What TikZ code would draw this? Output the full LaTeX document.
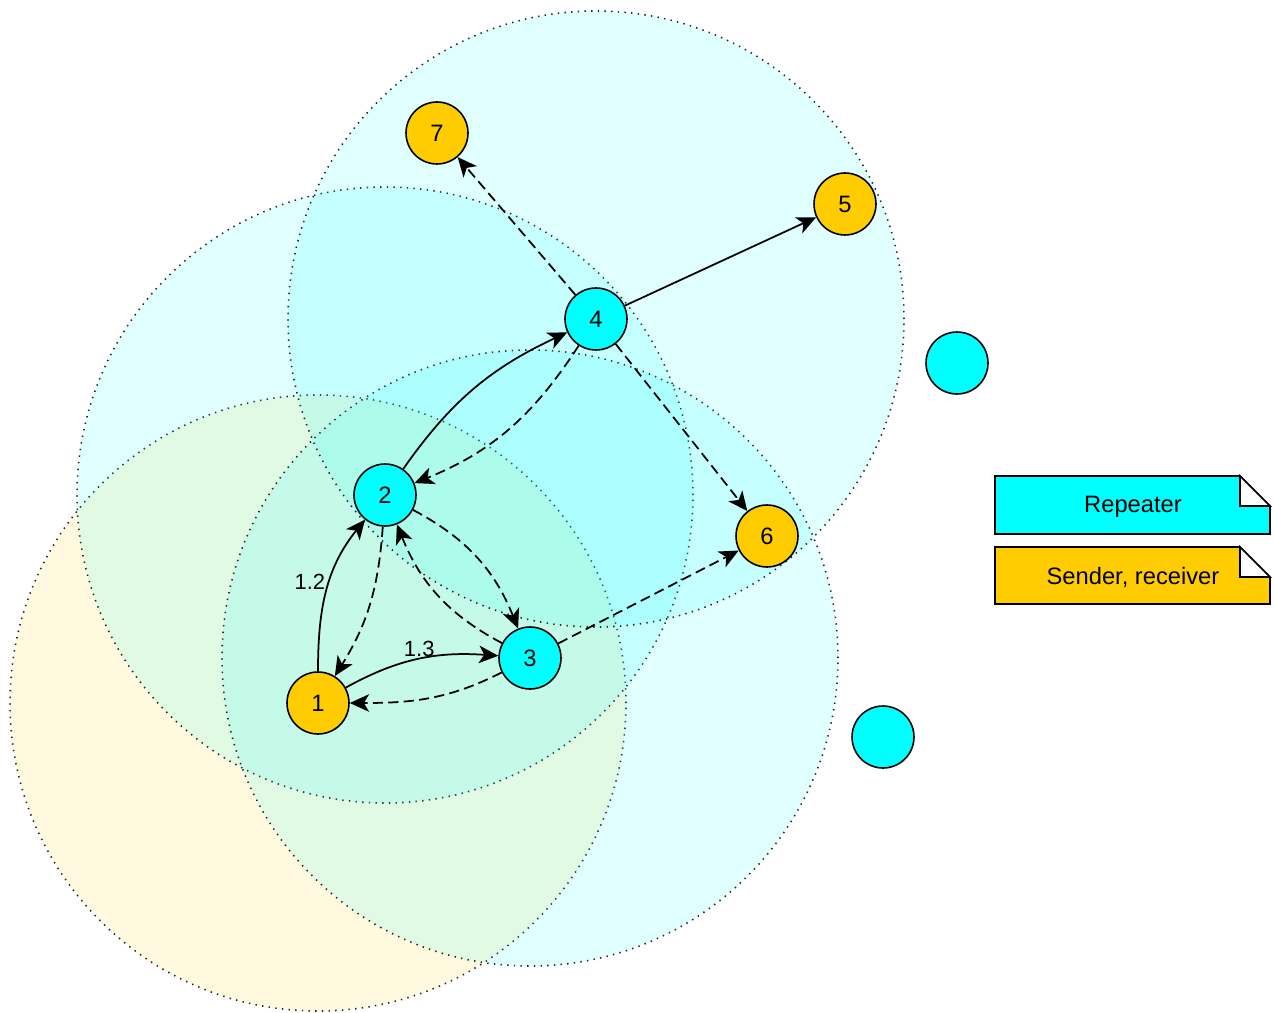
\documentclass[tikz,border=0pt]{standalone}
\usepackage{fontspec}
\setmainfont{Liberation Sans}
\usetikzlibrary{arrows.meta,backgrounds,positioning}
\definecolor{repeater}{HTML}{00FFFF}
\definecolor{sender}{HTML}{FFCC00}

\begin{document}
\begin{tikzpicture}[x=0.02cm, y=0.02cm,
    station/.style={circle, draw, line width=0.9pt, minimum size=1.24cm, inner sep=0pt, font=\fontsize{13.5}{16}\selectfont},
    repeater node/.style={station, fill=repeater},
    sender node/.style={station, fill=sender},
    radio range/.style={draw=black!85, line width=0.9pt, dash pattern=on 0.8pt off 3pt, fill opacity=0.12},
    link/.style={line width=1pt, -{Stealth[length=11pt, width=10pt, inset=3pt]}},
    weak link/.style={link, dash pattern=on 5.8pt off 3pt},
    edge label/.style={font=\fontsize{12.5}{15}\selectfont, inner sep=1pt},
    legend note/.style={draw, line width=0.9pt},
    legend text/.style={font=\fontsize{13.5}{16}\selectfont, inner sep=0pt}]
    \useasboundingbox (0,0) rectangle (1274,1012);

    \node[sender node] (n1) at (318,309) {1};
    \node[repeater node] (n2) at (385,517) {2};
    \node[repeater node] (n3) at (530,354) {3};
    \node[repeater node] (n4) at (596,693) {4};
    \node[sender node] (n5) at (845,808) {5};
    \node[sender node] (n6) at (767,476) {6};
    \node[sender node] (n7) at (437,879) {7};
    \node[repeater node] (spare1) at (957,649) {};
    \node[repeater node] (spare2) at (883,275) {};

    % radio ranges
    \begin{scope}[on background layer]
        \draw[radio range, fill=sender] (n1.center) circle[radius=308];
        \draw[radio range, fill=repeater] (n2.center) circle[radius=308];
        \draw[radio range, fill=repeater] (n3.center) circle[radius=308];
        \draw[radio range, fill=repeater] (n4.center) circle[radius=308];
    \end{scope}

    \draw[link] (n1) to[out=90, in=231] node[edge label, pos=0.56, left=1pt] {1.2} (n2);
    \draw[weak link] (n2) to[out=266, in=58] (n1);
    \draw[link] (n1) to[out=29, in=176] node[edge label, midway, above] {1.3} (n3);
    \draw[weak link] (n3) to[out=207, in=0] (n1);
    \draw[weak link] (n2) to[out=-28, in=112] (n3);
    \draw[weak link] (n3) to[out=152, in=-68] (n2);
    \draw[link] (n2) to[out=55, in=205] (n4);
    \draw[weak link] (n4) to[out=237, in=22] (n2);
    \draw[link] (n4) -- (n5);
    \draw[weak link] (n4) -- (n7);
    \draw[weak link] (n4) -- (n6);
    \draw[weak link] (n3) -- (n6);

    % legend
    \filldraw[legend note, fill=repeater] (995,536) -- (1240,536) -- (1270,506) -- (1270,478) -- (995,478) -- cycle;
    \filldraw[legend note, fill=white] (1240,536) -- (1240,506) -- (1270,506) -- cycle;
    \node[legend text] (key repeater) at (1133,505) {Repeater};
    \filldraw[legend note, fill=sender] (995,465) -- (1240,465) -- (1270,435) -- (1270,408) -- (995,408) -- cycle;
    \filldraw[legend note, fill=white] (1240,465) -- (1240,435) -- (1270,435) -- cycle;
    \node[legend text] (key sender) at (1133,435) {Sender, receiver};
\end{tikzpicture}
\end{document}
